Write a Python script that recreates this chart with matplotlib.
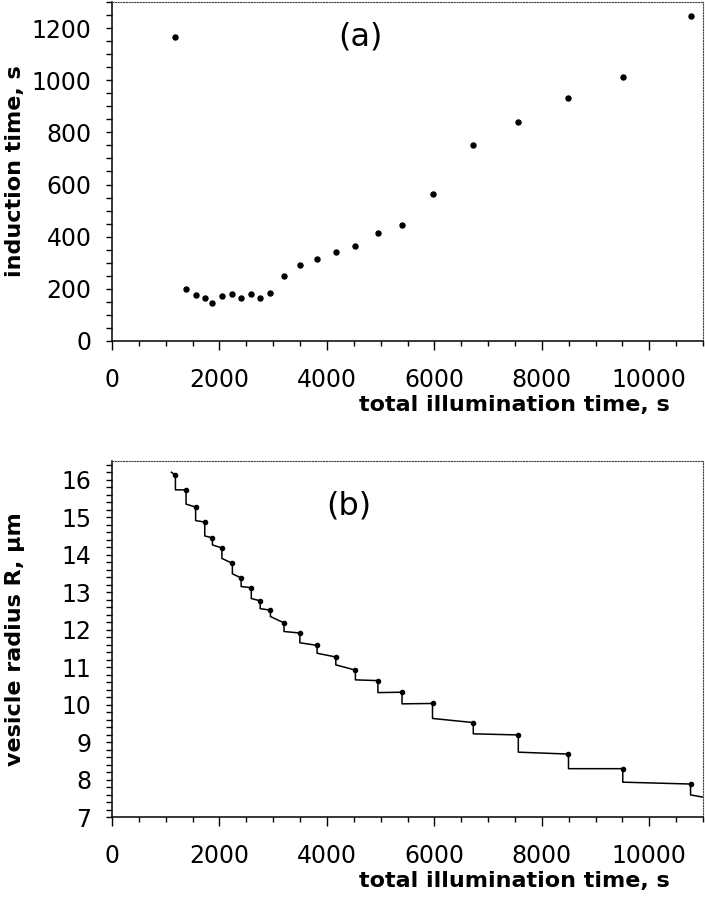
import matplotlib
matplotlib.use("Agg")
import matplotlib.pyplot as plt
from matplotlib.ticker import MultipleLocator
import numpy as np

# illumination times (s) of each measurement
times = [1180, 1378, 1556, 1726, 1869, 2045, 2240, 2403, 2592, 2758,
         2948, 3201, 3496, 3817, 4165, 4530, 4949, 5398, 5965, 6724,
         7562, 8496, 9506, 10768]

# (a) induction time
induction = [1167, 200, 176, 164, 144, 171, 181, 164, 179, 164,
             184, 249, 290, 314, 340, 365, 414, 446, 562, 753,
             841, 932, 1013, 1247]

# (b) vesicle radius just before and just after each illumination drop
radius_top = [16.12, 15.73, 15.27, 14.87, 14.45, 14.18, 13.77, 13.38, 13.12, 12.77,
              12.52, 12.18, 11.91, 11.58, 11.27, 10.92, 10.64, 10.33, 10.03, 9.52,
              9.19, 8.68, 8.29, 7.88]
radius_drop = [15.73, 15.35, 14.91, 14.50, 14.26, 13.90, 13.49, 13.15, 12.83, 12.56,
               12.35, 11.95, 11.65, 11.37, 11.06, 10.66, 10.32, 10.02, 9.63, 9.22,
               8.73, 8.29, 7.93, 7.59]
t_start, r_start = 1105, 16.2
t_end, r_end = 11000, 7.53

fig = plt.figure(figsize=(7.05, 8.99), dpi=100)
axa = fig.add_axes([0.1589, 0.6207, 0.8383, 0.3771])
axb = fig.add_axes([0.1589, 0.0912, 0.8383, 0.3960])


def style(ax, ylab, ymajor, yminor, ylim):
    ax.set_xlim(0, 11000)
    ax.set_ylim(*ylim)
    ax.xaxis.set_major_locator(MultipleLocator(2000))
    ax.xaxis.set_minor_locator(MultipleLocator(500))
    ax.yaxis.set_major_locator(MultipleLocator(ymajor))
    ax.yaxis.set_minor_locator(MultipleLocator(yminor))
    for s in ["left", "bottom"]:
        ax.spines[s].set_linewidth(1.1)
    for s in ["top", "right"]:
        ax.spines[s].set_linewidth(0.8)
        ax.spines[s].set_linestyle((0, (1, 1.5)))
        ax.spines[s].set_color("#444444")
    ax.tick_params(axis="x", which="major", direction="out", length=6.5, width=1,
                   pad=13, labelsize=17)
    ax.tick_params(axis="x", which="minor", direction="out", length=3.8, width=1)
    ax.tick_params(axis="y", which="both", direction="out", length=4.3, width=1,
                   pad=10.5, labelsize=17)
    ax.set_xlabel("total illumination time, s", fontsize=16, fontweight="bold")
    ax.set_ylabel(ylab, fontsize=16, fontweight="bold")
    ax.xaxis.label.set_va("center")
    ax.yaxis.label.set_va("center")


style(axa, "induction time, s", 200, 50, (0, 1300))
axa.xaxis.set_label_coords(0.680, -0.189)
axa.yaxis.set_label_coords(-0.164, 0.5)
axa.plot(times, induction, "o", color="black", markersize=3.6)
axa.text(0.42, 0.897, "(a)", transform=axa.transAxes, fontsize=23,
         ha="center", va="center")

style(axb, "vesicle radius R, \u03bcm", 1, 0.2, (7, 16.5))
axb.xaxis.set_label_coords(0.680, -0.180)
axb.yaxis.set_label_coords(-0.164, 0.5)
tx = [t_start]
ry = [r_start]
for t, rt, rd in zip(times, radius_top, radius_drop):
    tx += [t, t]
    ry += [rt, rd]
tx.append(t_end)
ry.append(r_end)
axb.plot(tx, ry, "-", color="black", linewidth=1.1)
axb.plot(times, radius_top, "o", color="black", markersize=3)
axb.text(0.40, 0.875, "(b)", transform=axb.transAxes, fontsize=23,
         ha="center", va="center")

fig.savefig("out.png", dpi=100)
